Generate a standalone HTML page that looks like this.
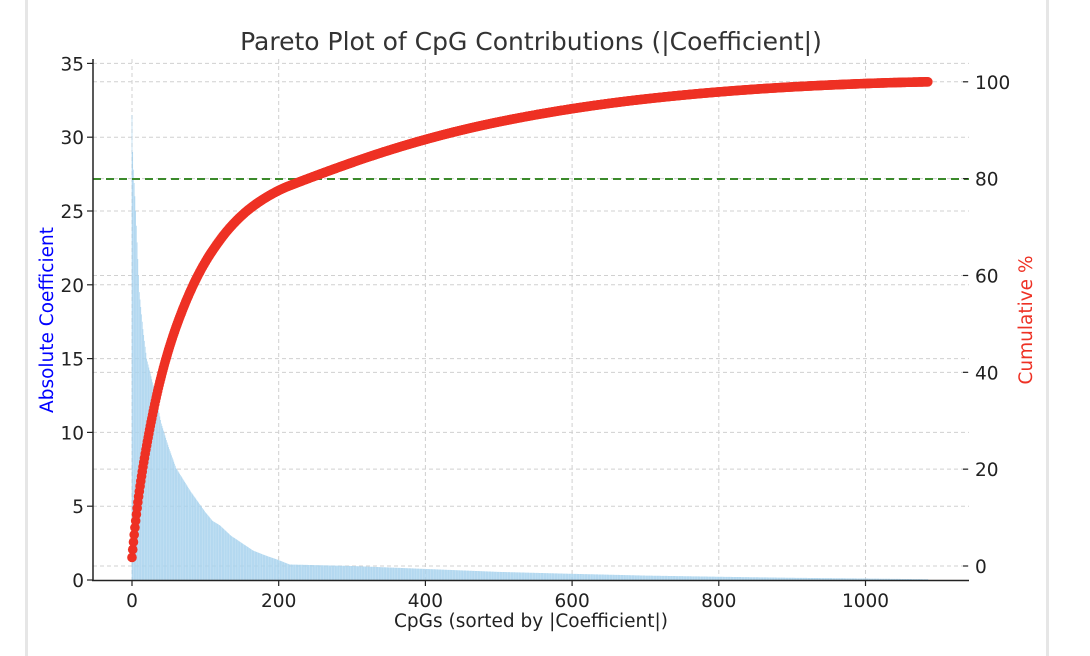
<!DOCTYPE html>
<html><head><meta charset="utf-8"><style>
body{margin:0;background:#fff;}
svg{display:block;font-family:"DejaVu Sans","Liberation Sans",sans-serif;}
</style></head><body>
<svg id="s" width="1090" height="656" xmlns="http://www.w3.org/2000/svg">
<rect x="0" y="0" width="1090" height="656" fill="#fff"/>
<rect x="25" y="0" width="3" height="656" fill="#e6e6e6"/>
<rect x="1046" y="0" width="3" height="656" fill="#e6e6e6"/>
<g id="grid" stroke="#d0d0d0" stroke-width="1" stroke-dasharray="4,3"></g>
<path id="bars" fill="#a8d3ee"></path>
<line x1="93" y1="179" x2="969" y2="179" stroke="#3b8a2b" stroke-width="2" stroke-dasharray="8,5"/>
<g id="pts" fill="#ee3124"></g>
<line x1="93" y1="59" x2="93" y2="581" stroke="#222" stroke-width="1.5"/>
<line x1="92" y1="580.5" x2="969" y2="580.5" stroke="#222" stroke-width="1.5"/>
<g id="ticks" font-size="18.5" fill="#222"></g>
<text x="531" y="50" font-size="25" fill="#333" text-anchor="middle">Pareto Plot of CpG Contributions (|Coefficient|)</text>
<text x="531" y="627" font-size="18.5" fill="#222" text-anchor="middle">CpGs (sorted by |Coefficient|)</text>
<text transform="translate(53,320) rotate(-90)" font-size="18.5" fill="#0000ff" text-anchor="middle">Absolute Coefficient</text>
<text transform="translate(1032,320) rotate(-90)" font-size="18.5" fill="#ee3124" text-anchor="middle">Cumulative %</text>
</svg>
<script>
var NS="http://www.w3.org/2000/svg";
function el(p,t,a,txt){var e=document.createElementNS(NS,t);for(var k in a)e.setAttribute(k,a[k]);if(txt!==undefined)e.textContent=txt;p.appendChild(e);return e;}
var X=function(i){return 132+i*0.7335;};
var YL=function(v){return 580-v*14.76;};
var YR=function(p){return 566-p*4.842;};
var g=document.getElementById('grid'),tk=document.getElementById('ticks');
[0,200,400,600,800,1000].forEach(function(v){el(g,'line',{x1:X(v),y1:59,x2:X(v),y2:580});
 el(tk,'line',{x1:X(v),y1:580,x2:X(v),y2:586,stroke:'#222','stroke-width':1.2});
 el(tk,'text',{x:X(v),y:607,'text-anchor':'middle'},v);});
[0,5,10,15,20,25,30,35].forEach(function(v){if(v>0)el(g,'line',{x1:93,y1:YL(v),x2:969,y2:YL(v)});
 el(tk,'line',{x1:87,y1:YL(v),x2:93,y2:YL(v),stroke:'#222','stroke-width':1.2});
 el(tk,'text',{x:84,y:YL(v)+7,'text-anchor':'end'},v);});
[0,20,40,60,80,100].forEach(function(v){el(g,'line',{x1:93,y1:YR(v),x2:969,y2:YR(v)});
 el(tk,'line',{x1:963,y1:YR(v),x2:968,y2:YR(v),stroke:'#222','stroke-width':1.2});
 el(tk,'text',{x:975,y:YR(v)+7},v);});
var tab=[[0,31.5],[1,29],[2,27.8],[4,26],[6,24],[10,19.5],[15,17],[20,15],[30,13],[40,10.6],[50,9],[60,7.6],[70,6.8],[80,6],[90,5.3],[100,4.6],[110,4.0],[120,3.7],[135,3.0],[150,2.5],[165,2.0],[180,1.7],[200,1.35],[215,1.05],[300,0.95],[400,0.75],[500,0.55],[600,0.42],[700,0.3],[800,0.22],[900,0.15],[1000,0.1],[1085,0.05]];
function val(i){for(var k=1;k<tab.length;k++){if(i<=tab[k][0]){var a=tab[k-1],b=tab[k];return a[1]+(b[1]-a[1])*(i-a[0])/(b[0]-a[0]);}}return 0.05;}
var N=1086,vals=[],tot=0;for(var i=0;i<N;i++){var v=val(i);vals.push(v);tot+=v;}
var d='';for(i=0;i<N;i++){var x=X(i)-0.3;d+='M'+x.toFixed(2)+' 580V'+YL(vals[i]).toFixed(2)+'h0.6V580z';}
document.getElementById('bars').setAttribute('d',d);
var pts=document.getElementById('pts'),c=0;
for(i=0;i<N;i++){c+=vals[i];el(pts,'circle',{cx:X(i).toFixed(2),cy:YR(c/tot*100).toFixed(2),r:4.8});}
</script>
</body></html>
